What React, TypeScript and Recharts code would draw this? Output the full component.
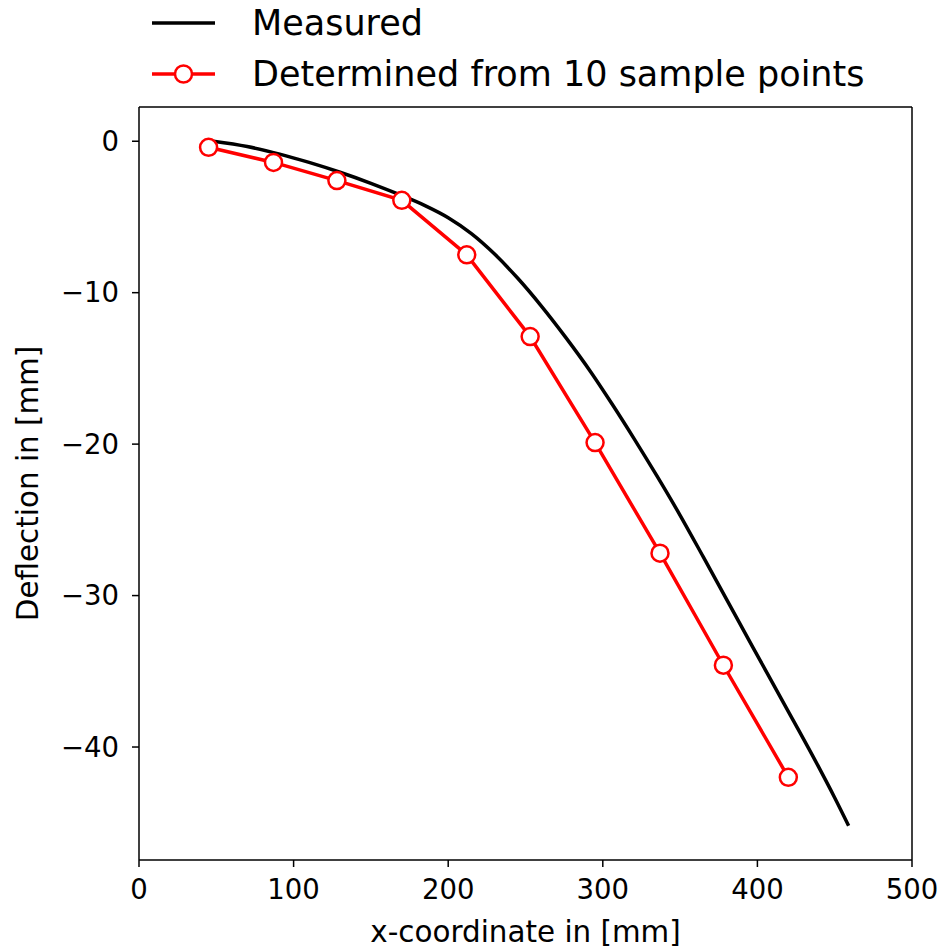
import { LineChart, Line, XAxis, YAxis, Label, ReferenceLine } from 'recharts';

// measured deflection curve
const measuredX = [48, 70, 91, 110, 130, 150, 169, 185, 200, 215, 230, 245, 260, 276, 292, 306, 320, 335, 350, 365, 379, 397, 417, 439, 450, 459];
const measuredY = [0, -0.35, -0.85, -1.4, -2.05, -2.78, -3.55, -4.25, -5.05, -6.1, -7.45, -9.05, -10.85, -12.95, -15.2, -17.35, -19.6, -22.1, -24.7, -27.45, -30.05, -33.4, -37.1, -41.2, -43.35, -45.2];

// the 10 sample points
const sampleX = [45, 87, 128, 170, 212, 253, 295, 337, 378, 420];
const sampleY = [-0.4, -1.4, -2.6, -3.9, -7.5, -12.9, -19.9, -27.2, -34.6, -42.0];

const xTicks = [0, 100, 200, 300, 400, 500];
const yTicks = [-40, -30, -20, -10, 0];

const legendLabels = ['Measured', 'Determined from 10 sample points'];

const FONT = '"DejaVu Sans", sans-serif';
const X_DOMAIN = [0, 500];
const Y_DOMAIN = [-47.46, 2.26];

const measured = measuredX.map((x, i) => ({ x, y: measuredY[i] }));
const samples = sampleX.map((x, i) => ({ x, y: sampleY[i] }));

const fmt = (v: number) => String(v).replace('-', '\u2212');

const tickStyle = { fill: '#000', fontSize: 27.5, fontFamily: FONT };

function LegendBox() {
  const row = (i: number, marker: boolean) => (
    <div style={{ display: 'flex', alignItems: 'center', height: 51 }}>
      <svg width={100} height={20} style={{ marginLeft: 152 }}>
        <line x1={0} y1={10} x2={63} y2={10} stroke={marker ? '#ff0000' : '#000'} strokeWidth={3.5} />
        {marker && <circle cx={31.5} cy={10} r={8.5} fill="#fff" stroke="#ff0000" strokeWidth={2.5} />}
      </svg>
      <span style={{ fontFamily: FONT, fontSize: 35, color: '#000', marginLeft: 0 }}>{legendLabels[i]}</span>
    </div>
  );
  return (
    <div style={{ position: 'absolute', top: -3, left: 0 }}>
      {row(0, false)}
      {row(1, true)}
    </div>
  );
}

export default function App() {
  return (
    <div style={{ position: 'absolute', top: 0, left: 0, width: 943, height: 950, background: '#fff' }}>
      <LineChart width={943} height={950} margin={{ top: 107, right: 31, bottom: 0, left: 0 }}>
        <XAxis
          dataKey="x"
          type="number"
          domain={X_DOMAIN}
          ticks={xTicks}
          allowDataOverflow
          height={90}
          tickSize={7}
          tickMargin={12}
          tick={tickStyle}
          stroke="#000"
          strokeWidth={1.5}
          tickFormatter={fmt}
        >
          <Label
            content={({ viewBox }: any) => (
              <text
                x={viewBox.x + viewBox.width / 2}
                y={viewBox.y + 82}
                textAnchor="middle"
                fontFamily={FONT}
                fontSize={29.4}
                fill="#000"
              >
                x-coordinate in [mm]
              </text>
            )}
          />
        </XAxis>
        <YAxis
          type="number"
          domain={Y_DOMAIN}
          ticks={yTicks}
          allowDataOverflow
          width={139}
          tickSize={7}
          tickMargin={13}
          tick={tickStyle}
          stroke="#000"
          strokeWidth={1.5}
          tickFormatter={fmt}
        >
          <Label
            content={({ viewBox }: any) => {
              const cx = viewBox.x + 38;
              const cy = viewBox.y + viewBox.height / 2;
              return (
                <text
                  x={cx}
                  y={cy}
                  transform={`rotate(-90, ${cx}, ${cy})`}
                  textAnchor="middle"
                  fontFamily={FONT}
                  fontSize={29.4}
                  fill="#000"
                >
                  Deflection in [mm]
                </text>
              );
            }}
          />
        </YAxis>
        {/* top and right spines */}
        <ReferenceLine y={Y_DOMAIN[1]} stroke="#000" strokeWidth={1.5} />
        <ReferenceLine x={X_DOMAIN[1]} stroke="#000" strokeWidth={1.5} />
        <Line
          data={measured}
          dataKey="y"
          type="monotone"
          stroke="#000"
          strokeWidth={3.5}
          dot={false}
          isAnimationActive={false}
        />
        <Line
          data={samples}
          dataKey="y"
          type="linear"
          stroke="#ff0000"
          strokeWidth={3.5}
          dot={{ r: 8.5, fill: '#fff', stroke: '#ff0000', strokeWidth: 2.5 }}
          isAnimationActive={false}
        />
      </LineChart>
      <LegendBox />
    </div>
  );
}
